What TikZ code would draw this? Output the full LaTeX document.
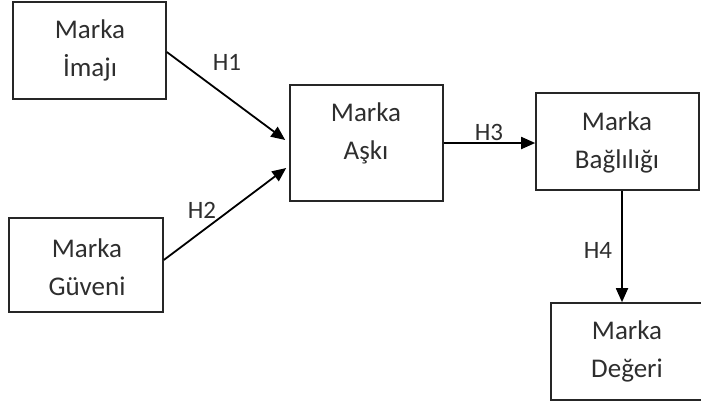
\documentclass[tikz,border=0pt]{standalone}
\usepackage{fontspec}
\setmainfont{Carlito}
\usetikzlibrary{arrows.meta,calc}
\definecolor{inkgray}{HTML}{2E2E2E}
\tikzset{
  box/.style={draw=black!85, line width=1.6pt, rectangle, inner sep=0pt},
  boxtext/.style={align=center, text=inkgray, inner sep=0pt,
    font=\fontsize{27}{38}\selectfont},
  hlabel/.style={text=inkgray, inner sep=0pt, font=\fontsize{25}{30}\selectfont},
  link/.style={draw=black, line width=1.8pt,
    -{Triangle[length=14pt,width=12pt]}},
}
\begin{document}
\begin{tikzpicture}[x=1pt,y=-1pt]
  \useasboundingbox (0,0) rectangle (701,407);

  % boxes
  \node[box, minimum width=153, minimum height=97]  (imaji)  at (89.5,50.5) {};
  \node[box, minimum width=154, minimum height=94]  (guveni) at (86,265) {};
  \node[box, minimum width=153, minimum height=116] (aski)   at (366.5,143) {};
  \node[box, minimum width=163, minimum height=97]  (bag)    at (617.5,141.5) {};
  \node[box, minimum width=152, minimum height=97]  (deger)  at (627,351.5) {};

  % box captions
  \node[boxtext] (imajiT)  at (90,50)    {Marka\\İmajı};
  \node[boxtext] (guveniT) at (87,267)   {Marka\\Güveni};
  \node[boxtext] (askiT)   at (366,133)  {Marka\\Aşkı};
  \node[boxtext] (bagT)    at (617,142)  {Marka\\Bağlılığı};
  \node[boxtext] (degerT)  at (627,351)  {Marka\\Değeri};

  % hypothesis paths
  \draw[link] ($(imaji.east)+(0,1.5)$) -- ($(aski.west)+(-4,-3)$);
  \draw[link] ($(guveni.east)+(0,-5)$) -- ($(aski.west)+(-3,25)$);
  \draw[link] (aski.east) -- (aski.east -| bag.west);
  \coordinate (h4start) at ($(bag.south)+(4.5,0)$);
  \draw[link] (h4start) -- (h4start |- deger.north);

  % path labels
  \node[hlabel] (h1) at (227,62)  {H1};
  \node[hlabel] (h2) at (202,210) {H2};
  \node[hlabel] (h3) at (489,132) {H3};
  \node[hlabel] (h4) at (598,250) {H4};
\end{tikzpicture}
\end{document}
